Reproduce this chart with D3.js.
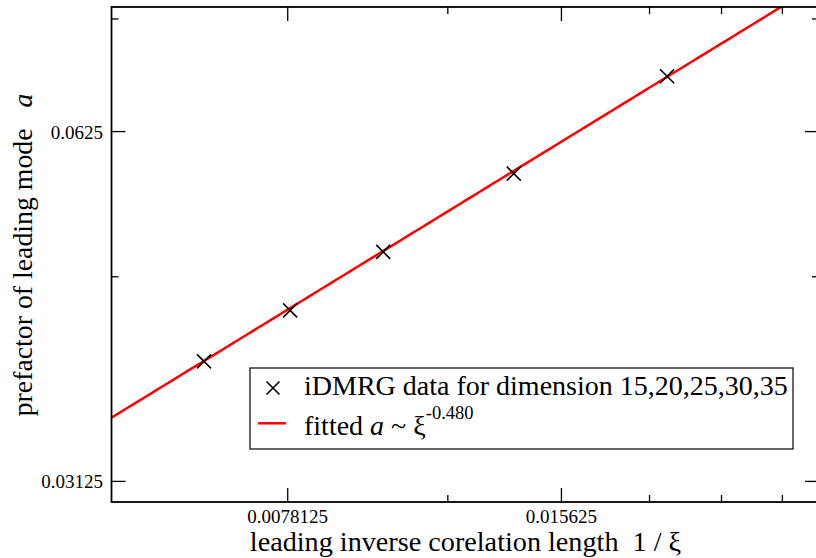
<!DOCTYPE html>
<html>
<head>
<meta charset="utf-8">
<script src="https://cdn.jsdelivr.net/npm/d3@7"></script>
<style>
  body { margin: 0; background: #fff; }
  svg text { font-family: "Liberation Serif", serif; }
</style>
</head>
<body>
<div id="chart"></div>
<script>
// iDMRG points: leading inverse correlation length 1/xi, prefactor a
const dims = [35, 30, 25, 20, 15];
const invXi = [0.00632, 0.00786, 0.00995, 0.01385, 0.02042];
const prefactor = [0.03964, 0.04386, 0.04924, 0.05751, 0.06974];

// fitted power law a = C * (1/xi)^p
const fitExponent = 0.480;
const fitPrefactor = 0.451;

const xDomain = [0.005, 0.03];
const yDomain = [0.03, 0.08];
const xMajorTicks = [0.0078125, 0.015625];
const yMajorTicks = [0.03125, 0.0625];
const xMinorStep = 0.00390625;
const yMinorStep = 0.015625;

const width = 816, height = 558;
const margin = { top: 7, left: 111.5, bottom: 56, right: -3 };
const iwidth = width - margin.left - margin.right;
const iheight = height - margin.top - margin.bottom;

const svg = d3.select("#chart").append("svg")
    .attr("width", width)
    .attr("height", height);

const g = svg.append("g").attr("transform", `translate(${margin.left},${margin.top})`);

const x = d3.scaleLog().base(2).domain(xDomain).range([0, iwidth]);
const y = d3.scaleLog().base(2).domain(yDomain).range([iheight, 0]);

// minor ticks, linearly spaced like xmgrace does it
const minors = (dom, step, majors) => d3.range(step, dom[1], step)
    .filter(v => v > dom[0] && !majors.some(m => Math.abs(m - v) < 1e-9));
const xMinor = minors(xDomain, xMinorStep, xMajorTicks);
const yMinor = minors(yDomain, yMinorStep, yMajorTicks);

svg.append("clipPath").attr("id", "clip")
  .append("rect").attr("width", iwidth).attr("height", iheight);

// fitted line
const fitX = d3.range(0, 101).map(i => xDomain[0] * Math.pow(xDomain[1] / xDomain[0], i / 100));
const line = d3.line()
    .x(d => x(d))
    .y(d => y(fitPrefactor * Math.pow(d, fitExponent)));
g.append("path")
    .datum(fitX)
    .attr("clip-path", "url(#clip)")
    .attr("fill", "none")
    .attr("stroke", "#ff0000")
    .attr("stroke-width", 2.5)
    .attr("d", line);

// data markers
const s = 7;
const pts = g.selectAll("g.pt").data(invXi.map((v, i) => [v, prefactor[i]]))
  .enter().append("g")
    .attr("transform", d => `translate(${x(d[0])},${y(d[1])})`);
pts.append("path")
    .attr("d", `M${-s},${-s}L${s},${s}M${-s},${s}L${s},${-s}`)
    .attr("stroke", "#000")
    .attr("stroke-width", 1.6)
    .attr("fill", "none");

// axes with inward ticks on all four sides
const tickLines = (vals, len, which) => {
  vals.forEach(v => {
    if (which === "x") {
      g.append("line").attr("x1", x(v)).attr("x2", x(v)).attr("y1", iheight).attr("y2", iheight - len)
          .attr("stroke", "#000").attr("stroke-width", 1.3);
      g.append("line").attr("x1", x(v)).attr("x2", x(v)).attr("y1", 0).attr("y2", len)
          .attr("stroke", "#000").attr("stroke-width", 1.3);
    } else {
      g.append("line").attr("y1", y(v)).attr("y2", y(v)).attr("x1", 0).attr("x2", len)
          .attr("stroke", "#000").attr("stroke-width", 1.3);
      g.append("line").attr("y1", y(v)).attr("y2", y(v)).attr("x1", iwidth).attr("x2", iwidth - len)
          .attr("stroke", "#000").attr("stroke-width", 1.3);
    }
  });
};
tickLines(xMajorTicks, 14, "x");
tickLines(xMinor, 7, "x");
tickLines(yMajorTicks, 14, "y");
tickLines(yMinor, 7, "y");

g.append("rect")
    .attr("width", iwidth).attr("height", iheight)
    .attr("fill", "none").attr("stroke", "#000").attr("stroke-width", 1.8);

g.selectAll("text.xt").data(xMajorTicks).enter().append("text")
    .attr("x", d => x(d)).attr("y", iheight + 21)
    .attr("text-anchor", "middle")
    .attr("font-size", 19)
    .text(d => d);
g.selectAll("text.yt").data(yMajorTicks).enter().append("text")
    .attr("x", -8.5).attr("y", d => y(d) + 7)
    .attr("text-anchor", "end")
    .attr("font-size", 19)
    .text(d => d);

// axis titles
svg.append("text")
    .attr("x", 465.5).attr("y", 551)
    .attr("text-anchor", "middle")
    .attr("font-size", 28.2)
    .attr("xml:space", "preserve")
    .text("leading inverse corelation length  1 / ξ");

const yt = svg.append("text")
    .attr("transform", "translate(32,255) rotate(-90)")
    .attr("text-anchor", "middle")
    .attr("font-size", 27.8)
    .attr("xml:space", "preserve");
yt.append("tspan").text("prefactor of leading mode   ");
yt.append("tspan").attr("font-style", "italic").text("a");

// legend
const lg = svg.append("g").attr("transform", "translate(250,368)");
lg.append("rect").attr("width", 543).attr("height", 81)
    .attr("fill", "#fff").attr("stroke", "#000").attr("stroke-width", 1.2);
const ls = 6.5;
lg.append("path")
    .attr("d", `M${23 - ls},${20 - ls}L${23 + ls},${20 + ls}M${23 - ls},${20 + ls}L${23 + ls},${20 - ls}`)
    .attr("stroke", "#000").attr("stroke-width", 1.6);
lg.append("text").attr("x", 54).attr("y", 27).attr("font-size", 28)
    .text("iDMRG data for dimension " + dims.slice().reverse().join(","));
lg.append("line").attr("x1", 8).attr("x2", 36).attr("y1", 55.3).attr("y2", 55.3)
    .attr("stroke", "#ff0000").attr("stroke-width", 2.5);
const ft = lg.append("text").attr("x", 54).attr("y", 67).attr("font-size", 28)
    .attr("xml:space", "preserve");
ft.append("tspan").text("fitted ");
ft.append("tspan").attr("font-style", "italic").text("a");
ft.append("tspan").text(" ~ ξ");
ft.append("tspan").attr("font-size", 18.5).attr("dy", -16.5).text("-" + fitExponent.toFixed(3));
</script>
</body>
</html>
